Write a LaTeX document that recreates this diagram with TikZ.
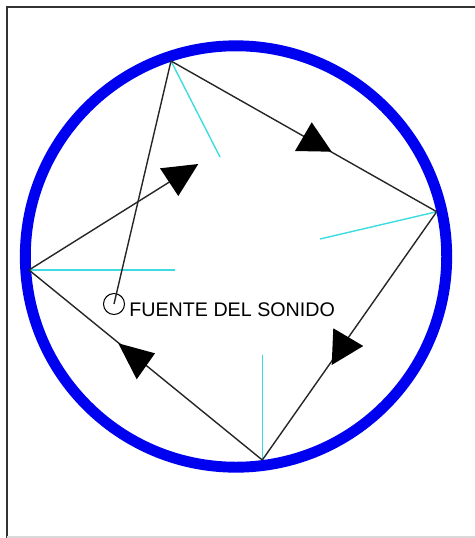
\documentclass[tikz,border=0pt]{standalone}
\usepackage{fontspec}
\setmainfont{Liberation Sans}
\definecolor{wallblue}{RGB}{0,0,240}
\definecolor{normalcyan}{RGB}{60,220,225}
\tikzset{
  ray/.style={draw=black!85, line width=0.8pt},
  normal/.style={draw=normalcyan, line width=0.8pt},
  head/.style={fill=black},
}
\begin{document}
\begin{tikzpicture}[x=0.02cm, y=-0.02cm]
\useasboundingbox (0,0) rectangle (475,538);
% frame
\draw[line width=1.2pt, black!80] (7,538) -- (7,7) -- (475,7);
\draw[line width=0.6pt, black!15] (7,537) -- (475,537);
% wall
\draw[wallblue, line width=6.2pt] (236,256.5) circle (210.7);
% reflection points
\coordinate (top) at (171,61);
\coordinate (right) at (436.7,211.7);
\coordinate (bottom) at (262.3,460);
\coordinate (left) at (29,270);
\coordinate (end) at (179,176);
% normals
\coordinate (ntop) at (220,157);
\coordinate (nright) at (320,239);
\coordinate (nbottom) at (262.3,355);
\coordinate (nleft) at (175,270);
\draw[normal] (top) -- (ntop);
\draw[normal] (right) -- (nright);
\draw[normal] (bottom) -- (nbottom);
\draw[normal] (left) -- (nleft);
% source
\node[draw, circle, line width=0.6pt, minimum size=0.42cm, inner sep=0] (src) at (114,304) {};
\node[anchor=base west, inner sep=0, font=\fontsize{11.2}{13}\selectfont] (label) at (129,316.5) {FUENTE DEL SONIDO};
% rays
\draw[ray] (src.center) -- (top);
\draw[ray] (top) -- (right);
\draw[ray] (right) -- (bottom);
\draw[ray] (bottom) -- (left);
\draw[ray] (left) -- (end);
% arrow heads
\fill[head] (160,168.3) -- (198.3,164) -- (178.3,196) -- cycle;
\fill[head] (295,151) -- (311.7,122.3) -- (331.7,151.7) -- cycle;
\fill[head] (333.3,328.3) -- (363.3,346) -- (331.7,365) -- cycle;
\fill[head] (118.3,343.3) -- (155,353.3) -- (136.7,379.3) -- cycle;
\end{tikzpicture}
\end{document}
